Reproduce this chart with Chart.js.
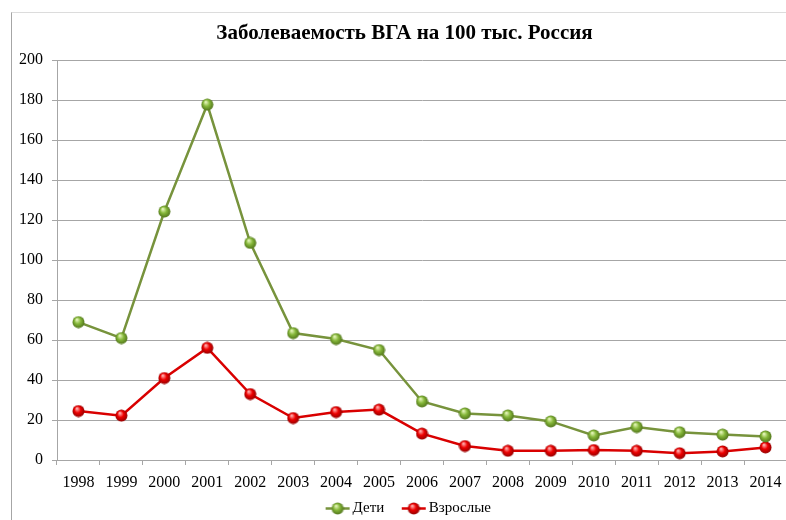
<!DOCTYPE html>
<html>
<head>
<meta charset="utf-8">
<title>Заболеваемость ВГА</title>
<script src="https://cdn.jsdelivr.net/npm/chart.js@4.4.1/dist/chart.umd.min.js"></script>
<style>
  html, body { margin: 0; padding: 0; background: #fff; overflow: hidden; }
  #frame {
    position: absolute; left: 11px; top: 12px; width: 800px; height: 540px;
    border-left: 1px solid #a6a6a6; border-top: 1px solid #dcdcdc;
  }
  #wrap { position: absolute; left: 0; top: 0; width: 808px; height: 526px; }
</style>
</head>
<body>
<div id="frame"></div>
<div id="wrap"><canvas id="chart"></canvas></div>
<script>
// incidence per 100k, Russia
const years = ['1998', '1999', '2000', '2001', '2002', '2003', '2004', '2005', '2006',
               '2007', '2008', '2009', '2010', '2011', '2012', '2013', '2014'];
const kids = [69, 61, 124.3, 177.8, 108.6, 63.5, 60.5, 55, 29.3,
              23.3, 22.3, 19.3, 12.3, 16.5, 13.9, 12.7, 11.8];
const adults = [24.5, 22.2, 41, 56.1, 33, 21, 24, 25.2, 13.2,
                7, 4.6, 4.6, 5, 4.6, 3.4, 4.3, 6.3];
const yMin = 0, yMax = 200, yStep = 20;

const serif = '"Liberation Serif", "Times New Roman", serif';

// shaded "3d" marker
function makeBall(light, base, dark, size) {
  const c = document.createElement('canvas');
  c.width = size; c.height = size;
  const g = c.getContext('2d');
  const r = size / 2;
  const grad = g.createRadialGradient(r * 0.75, r * 0.6, 0.5, r, r, r);
  grad.addColorStop(0, light);
  grad.addColorStop(0.45, base);
  grad.addColorStop(1, dark);
  g.fillStyle = grad;
  g.beginPath();
  g.arc(r, r, r - 0.5, 0, Math.PI * 2);
  g.fill();
  return c;
}

// legend icon: short line with the marker in the middle.
// drawn in the right part of a wider canvas so the icon sits close to its text
// and the gap between legend items stays wide
function makeLegendIcon(lineColor, ball) {
  const c = document.createElement('canvas');
  c.width = 48; c.height = ball.height;
  const g = c.getContext('2d');
  const x0 = 18, x1 = 42, mid = (x0 + x1) / 2;
  g.strokeStyle = lineColor;
  g.lineWidth = 2.5;
  g.beginPath();
  g.moveTo(x0, c.height / 2);
  g.lineTo(x1, c.height / 2);
  g.stroke();
  g.drawImage(ball, mid - ball.width / 2, 0);
  return c;
}

const greenLine = '#77933c';
const redLine = '#d90000';
const greenBall = makeBall('#e4f5b8', '#86b83a', '#4b6e17', 13);
const redBall = makeBall('#ffb0b0', '#ee0000', '#8a0000', 13);
const legendIcons = [makeLegendIcon(greenLine, greenBall), makeLegendIcon(redLine, redBall)];

// y labels run into the left padding; widen the label clip box to the canvas edge
const unclipYLabels = {
  id: 'unclipYLabels',
  afterLayout(chart) { chart.scales.y.left = 0; }
};

new Chart(document.getElementById('chart'), {
  type: 'line',
  data: {
    labels: years,
    datasets: [
      {
        label: 'Дети',
        data: kids,
        borderColor: greenLine,
        borderWidth: 2.5,
        pointStyle: greenBall,
        tension: 0
      },
      {
        label: 'Взрослые',
        data: adults,
        borderColor: redLine,
        borderWidth: 2.5,
        pointStyle: redBall,
        tension: 0
      }
    ]
  },
  plugins: [unclipYLabels],
  options: {
    responsive: true,
    maintainAspectRatio: false,
    animation: false,
    layout: { padding: { left: 22, right: 21, top: 0, bottom: 0 } },
    plugins: {
      title: {
        display: true,
        text: 'Заболеваемость ВГА на 100 тыс. Россия',
        color: '#000',
        font: { family: serif, size: 21, weight: 'bold' },
        padding: { top: 21, bottom: 14 }
      },
      legend: {
        position: 'bottom',
        labels: {
          color: '#000',
          font: { family: serif, size: 15 },
          usePointStyle: true,
          pointStyleWidth: 27,
          boxHeight: 13,
          padding: 10,
          generateLabels(chart) {
            const items = Chart.defaults.plugins.legend.labels.generateLabels(chart);
            items.forEach((it, i) => { it.pointStyle = legendIcons[i]; });
            return items;
          }
        }
      },
      tooltip: { enabled: false }
    },
    scales: {
      x: {
        offset: true,
        afterFit(scale) { scale.height = 31; },
        grid: {
          display: true,
          drawOnChartArea: false,
          offset: true,
          tickLength: 5,
          color: '#a6a6a6'
        },
        border: { color: '#a6a6a6' },
        ticks: {
          color: '#000',
          font: { family: serif, size: 16 },
          padding: 8,
          maxRotation: 0,
          autoSkip: false
        }
      },
      y: {
        min: yMin,
        max: yMax,
        afterFit(scale) { scale.width = 35; },
        grid: { color: '#a6a6a6', tickLength: 5 },
        border: { color: '#a6a6a6' },
        ticks: {
          stepSize: yStep,
          color: '#000',
          font: { family: serif, size: 16 },
          padding: 9
        }
      }
    }
  }
});
</script>
</body>
</html>
